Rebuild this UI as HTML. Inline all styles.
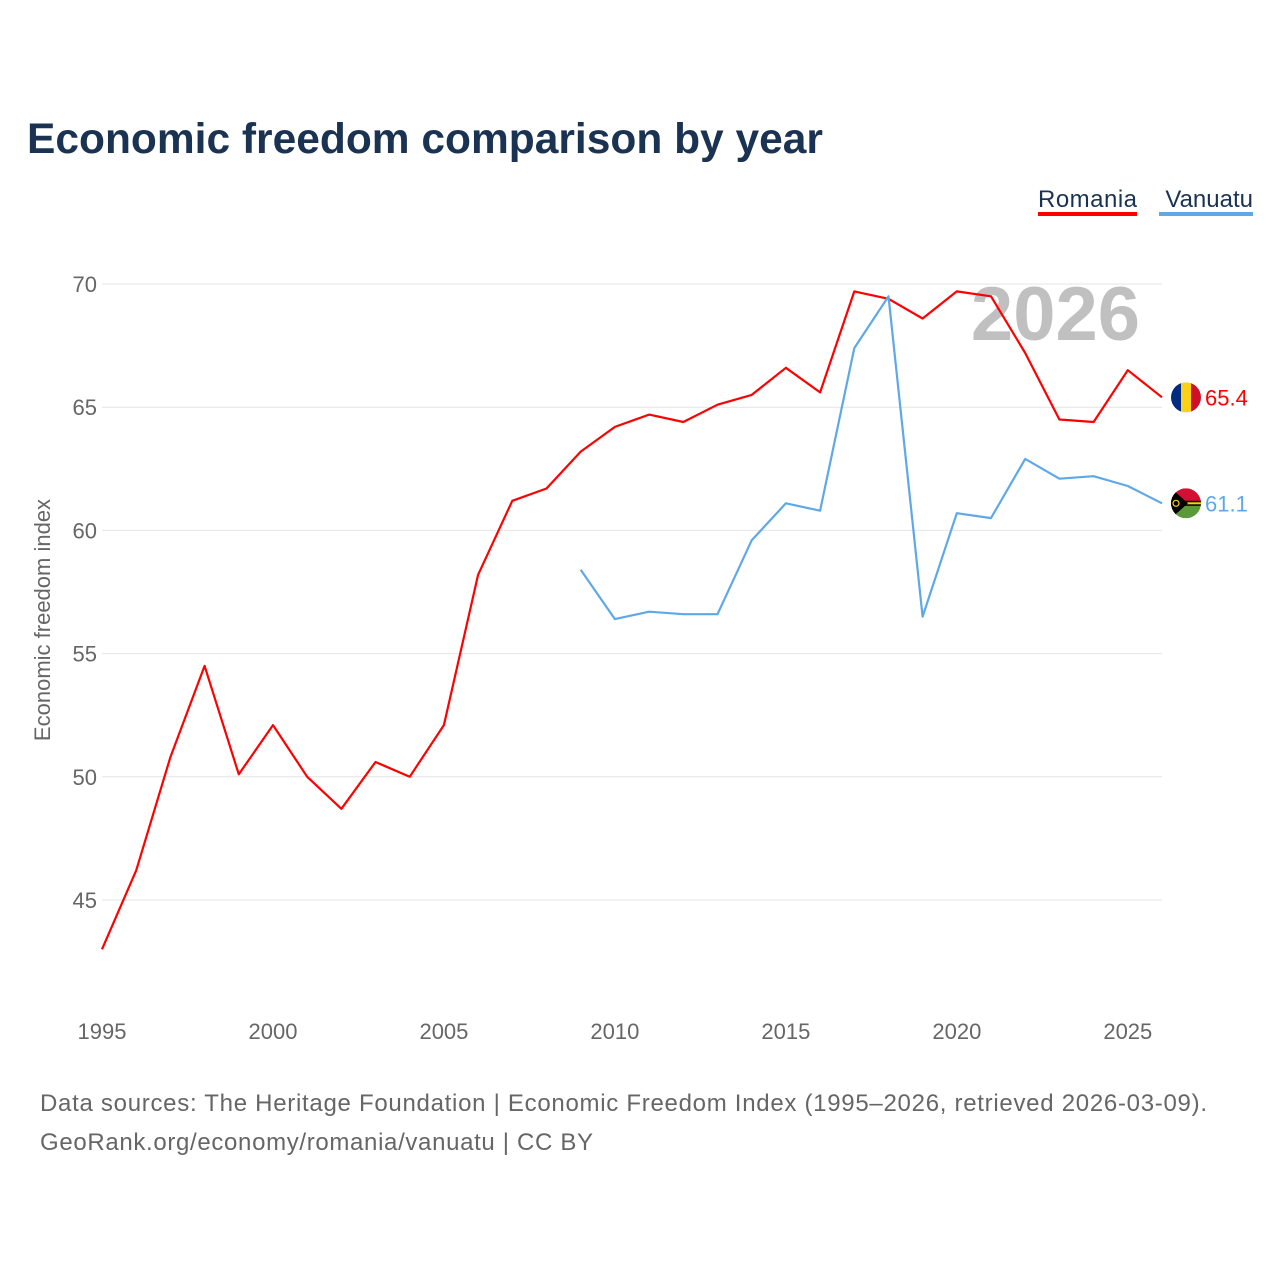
<!DOCTYPE html>
<html><head><meta charset="utf-8"><style>
body{margin:0;background:#fff;font-family:"Liberation Sans",sans-serif;}
svg text{font-family:"Liberation Sans",sans-serif;}
</style></head><body>
<svg width="1280" height="1280" viewBox="0 0 1280 1280">
<text x="27" y="153" font-size="42.5" font-weight="bold" fill="#1b3353">Economic freedom comparison by year</text>
<g>
<text x="1137" y="207" font-size="24" fill="#1b3353" text-anchor="end" textLength="99">Romania</text>
<rect x="1038" y="212" width="99" height="4" fill="#ff0000"/>
<text x="1253" y="207" font-size="24" fill="#1b3353" text-anchor="end">Vanuatu</text>
<rect x="1159" y="212" width="94" height="4" fill="#5fa8e8"/>
</g>
<g id="grid"></g>
<text x="1140" y="340" font-size="76" font-weight="bold" fill="#c0c0c0" text-anchor="end">2026</text>
<g id="plot"></g>
<text transform="translate(50,620) rotate(-90)" font-size="22" fill="#666" text-anchor="middle">Economic freedom index</text>
<text x="40" y="1111" font-size="24" fill="#666" textLength="1167">Data sources: The Heritage Foundation | Economic Freedom Index (1995–2026, retrieved 2026-03-09).</text>
<text x="40" y="1150" font-size="24" fill="#666" textLength="553">GeoRank.org/economy/romania/vanuatu | CC BY</text>
</svg>
<script>
const years=[1995,1996,1997,1998,1999,2000,2001,2002,2003,2004,2005,2006,2007,2008,2009,2010,2011,2012,2013,2014,2015,2016,2017,2018,2019,2020,2021,2022,2023,2024,2025,2026];
const romania=[43.0,46.2,50.8,54.5,50.1,52.1,50.0,48.7,50.6,50.0,52.1,58.2,61.2,61.7,63.2,64.2,64.7,64.4,65.1,65.5,66.6,65.6,69.7,69.4,68.6,69.7,69.5,67.2,64.5,64.4,66.5,65.4];
const vanuatu=[null,null,null,null,null,null,null,null,null,null,null,null,null,null,58.4,56.4,56.7,56.6,56.6,59.6,61.1,60.8,67.4,69.5,56.5,60.7,60.5,62.9,62.1,62.2,61.8,61.1];
const yTicks=[45,50,55,60,65,70];
const xTicks=[1995,2000,2005,2010,2015,2020,2025];
const NS="http://www.w3.org/2000/svg";
const xS=y=>102+(y-1995)*(1162-102)/31;
const yS=v=>284+(70-v)*(900-284)/25;
const grid=document.getElementById('grid'),plot=document.getElementById('plot');
function mk(tag,attrs,parent){const e=document.createElementNS(NS,tag);for(const k in attrs)e.setAttribute(k,attrs[k]);parent.appendChild(e);return e;}
yTicks.forEach(t=>{
 const l=mk('line',{x1:102,x2:1162,y1:yS(t),y2:yS(t),stroke:'#e4e4e4','stroke-width':1},grid);
 
 
 const tx=mk('text',{x:97,y:yS(t)+8,'font-size':22,fill:'#666','text-anchor':'end'},grid);tx.textContent=t;
 
 
});
xTicks.forEach(t=>{
 const tx=mk('text',{x:xS(t),y:1039,'font-size':22,fill:'#666','text-anchor':'middle'},grid);tx.textContent=t;
 
 
});
function line(vals,color,name){
 let d='';let pen=false;
 vals.forEach((v,i)=>{if(v==null){pen=false;return;}d+=(pen?'L':'M')+xS(years[i]).toFixed(1)+','+yS(v).toFixed(1);pen=true;});
 const p=mk('path',{d:d,fill:'none',stroke:color,'stroke-width':2.2,'stroke-linejoin':'round'},plot);
 
 
}
line(romania,'#ff0000','romania-line');
line(vanuatu,'#5fa8e8','vanuatu-line');
const lx=1186;
const rv=romania[romania.length-1],ry=yS(rv);
const rf=mk('g',{},plot);


mk('defs',{},rf).innerHTML='<clipPath id="cr"><circle cx="'+lx+'" cy="'+ry+'" r="15"/></clipPath><clipPath id="cv"><circle cx="'+lx+'" cy="'+yS(vanuatu[vanuatu.length-1])+'" r="15"/></clipPath>';
const rg=mk('g',{'clip-path':'url(#cr)'},rf);
mk('rect',{x:lx-15,y:ry-15,width:10,height:30,fill:'#002b7f'},rg);
mk('rect',{x:lx-5,y:ry-15,width:10,height:30,fill:'#fcd116'},rg);
mk('rect',{x:lx+5,y:ry-15,width:10,height:30,fill:'#ce1126'},rg);
const rl=mk('text',{x:1205,y:ry+8,'font-size':22,fill:'#ff0000'},plot);rl.textContent=rv.toFixed(1);


const vv=vanuatu[vanuatu.length-1],vy=yS(vv);
const vf=mk('g',{'clip-path':'url(#cv)'},plot);


mk('rect',{x:lx-15,y:vy-15,width:30,height:15,fill:'#d21034'},vf);
mk('rect',{x:lx-15,y:vy,width:30,height:15,fill:'#5a9a3a'},vf);
mk('rect',{x:lx-15,y:vy-2.5,width:30,height:5,fill:'#000'},vf);
mk('rect',{x:lx-15,y:vy-1,width:30,height:2,fill:'#fdce12'},vf);
mk('polygon',{points:(lx-15)+','+(vy-15)+' '+(lx+2)+','+vy+' '+(lx-15)+','+(vy+15),fill:'#000'},vf);
mk('circle',{cx:lx-10,cy:vy,r:3,fill:'none',stroke:'#fdce12','stroke-width':1.2},vf);
const vl=mk('text',{x:1205,y:vy+8,'font-size':22,fill:'#5fa8e8'},plot);vl.textContent=vv.toFixed(1);


</script>
</body></html>
